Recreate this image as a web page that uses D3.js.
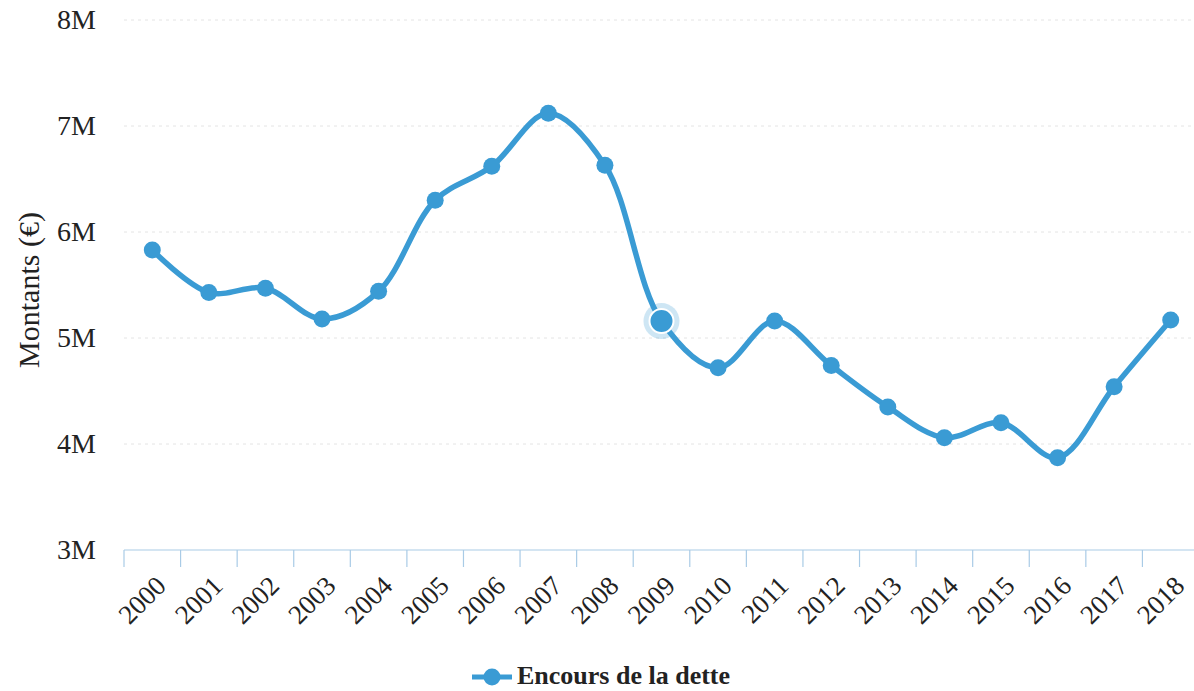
<!DOCTYPE html>
<html>
<head>
<meta charset="utf-8">
<script src="https://cdn.jsdelivr.net/npm/d3@7/dist/d3.min.js"></script>
<style>
  body { margin: 0; background: #fff; }
  svg { display: block; font-family: "Liberation Serif", "Times New Roman", serif; }
</style>
</head>
<body>
<svg id="chart" width="1194" height="691"></svg>
<script>
// data (millions of euros)
const years = ["2000","2001","2002","2003","2004","2005","2006","2007","2008","2009",
               "2010","2011","2012","2013","2014","2015","2016","2017","2018"]
const encours = [5.83, 5.43, 5.47, 5.18, 5.44, 6.30, 6.62, 7.12, 6.63, 5.16,
                 4.72, 5.16, 4.74, 4.35, 4.06, 4.20, 3.87, 4.54, 5.17]
const yTicks = [3, 4, 5, 6, 7, 8]
const seriesName = "Encours de la dette"
const hoverYear = "2009"

const color = "#3a9bd4"
const svg = d3.select("#chart")
const plot = {left: 124, right: 1199, top: 20, bottom: 550}

var xScale = d3.scaleBand()
    .domain(years)
    .range([plot.left, plot.right])
var yScale = d3.scaleLinear()
    .domain([3, 8])
    .range([plot.bottom, plot.top])
const cx = d => xScale(d) + xScale.bandwidth() / 2

// gridlines
svg.append("g").attr("id", "grid")
    .selectAll("line")
    .data(yTicks.slice(1))
    .join("line")
    .attr("x1", plot.left)
    .attr("x2", plot.right)
    .attr("y1", d => yScale(d))
    .attr("y2", d => yScale(d))
    .attr("stroke", "#e4e4e4")
    .attr("stroke-width", 1)
    .attr("stroke-dasharray", "3,4")

// y axis labels
var yAxis = d3.axisLeft(yScale)
    .tickValues(yTicks)
    .tickFormat(d => d + "M")
    .tickSize(0)
    .tickPadding(0)
var gy = svg.append("g").attr("id", "yaxis")
    .attr("transform", "translate(96,0)")
    .call(yAxis)
gy.select(".domain").remove()
gy.selectAll("text")
    .attr("font-family", "Liberation Serif")
    .attr("font-size", 28)
    .attr("fill", "#222")

// y title
svg.append("text")
    .attr("transform", "translate(39,290) rotate(-90)")
    .attr("text-anchor", "middle")
    .attr("font-size", 30)
    .attr("fill", "#222")
    .text("Montants (€)")

// x axis: ticks between categories (Highcharts style)
var gx = svg.append("g").attr("id", "xaxis")
gx.append("line")
    .attr("x1", plot.left).attr("x2", plot.right)
    .attr("y1", plot.bottom).attr("y2", plot.bottom)
    .attr("stroke", "#a9cbe6").attr("stroke-width", 1.2)
gx.selectAll("line.tick")
    .data(years)
    .join("line").attr("class", "tick")
    .attr("x1", d => xScale(d)).attr("x2", d => xScale(d))
    .attr("y1", plot.bottom).attr("y2", plot.bottom + 17)
    .attr("stroke", "#a9cbe6").attr("stroke-width", 1.2)
gx.selectAll("text")
    .data(years)
    .join("text")
    .attr("transform", d => "translate(" + (cx(d) + 2) + "," + (plot.bottom + 24) + ") rotate(-45)")
    .attr("text-anchor", "end")
    .attr("dy", "0.7em")
    .attr("font-size", 27)
    .attr("fill", "#222")
    .text(d => d)

// series line
var line = d3.line()
    .x((d, i) => cx(years[i]))
    .y(d => yScale(d))
    .curve(d3.curveCatmullRom.alpha(0.5))
svg.append("path")
    .datum(encours)
    .attr("fill", "none")
    .attr("stroke", color)
    .attr("stroke-width", 5.5)
    .attr("stroke-linejoin", "round")
    .attr("d", line)

// hover halo
var hi = years.indexOf(hoverYear)
svg.append("circle")
    .attr("cx", cx(hoverYear))
    .attr("cy", yScale(encours[hi]))
    .attr("r", 18)
    .attr("fill", color)
    .attr("opacity", 0.25)

// markers
svg.append("g").selectAll("circle")
    .data(encours)
    .join("circle")
    .attr("cx", (d, i) => cx(years[i]))
    .attr("cy", d => yScale(d))
    .attr("r", (d, i) => years[i] === hoverYear ? 12 : 8.5)
    .attr("fill", color)
    .attr("stroke", (d, i) => years[i] === hoverYear ? "#fff" : "none")
    .attr("stroke-width", 2)

// legend
var lg = svg.append("g").attr("transform", "translate(472,677)")
lg.append("line")
    .attr("x1", 0).attr("x2", 40)
    .attr("stroke", color).attr("stroke-width", 5)
lg.append("circle")
    .attr("cx", 20).attr("r", 8.5).attr("fill", color)
lg.append("text")
    .attr("x", 45).attr("y", 7)
    .attr("font-size", 26)
    .attr("font-weight", "bold")
    .attr("fill", "#222")
    .text(seriesName)
</script>
</body>
</html>
